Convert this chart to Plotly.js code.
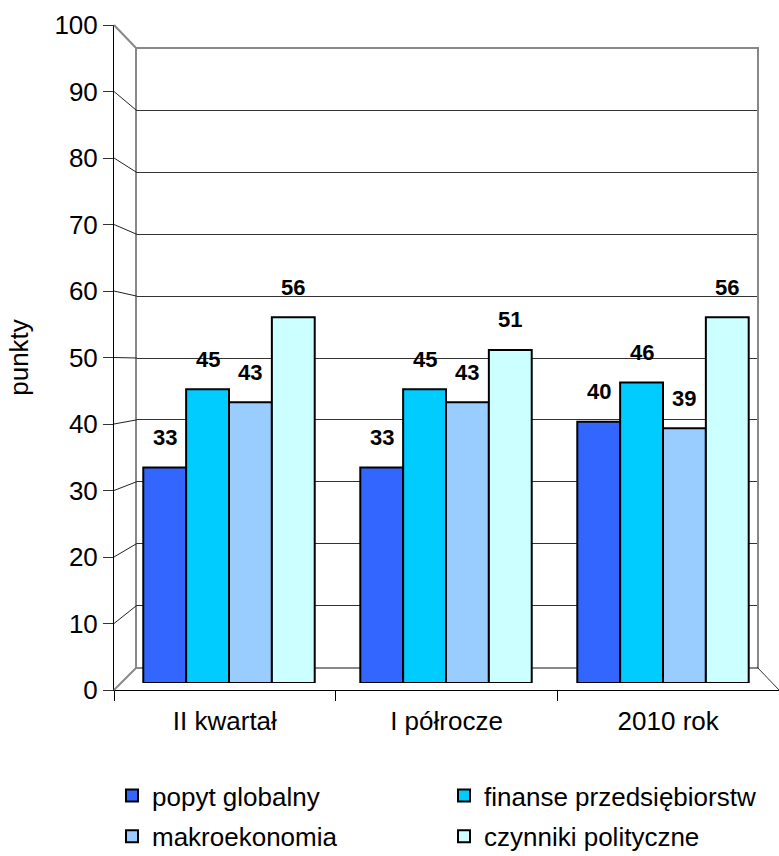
<!DOCTYPE html>
<html>
<head>
<meta charset="utf-8">
<script src="https://cdn.plot.ly/plotly-3.0.1.min.js"></script>
<style>html,body{margin:0;padding:0;background:#fff}#chart{width:779px;height:856px}</style>
</head>
<body>
<div id="chart"></div>
<script>
// ---- data ----
const categories = ["II kwartał", "I półrocze", "2010 rok"];
const seriesNames = ["popyt globalny", "finanse przedsiębiorstw", "makroekonomia", "czynniki polityczne"];
const popytGlobalny = [33, 33, 40];
const finansePrzedsiebiorstw = [45, 45, 46];
const makroekonomia = [43, 43, 39];
const czynnikiPolityczne = [56, 51, 56];
const yTickValues = [0, 10, 20, 30, 40, 50, 60, 70, 80, 90, 100];

// ---- style ----
const seriesValues = [popytGlobalny, finansePrzedsiebiorstw, makroekonomia, czynnikiPolityczne];
const colors = ["#3366FF", "#00CCFF", "#99CCFF", "#CCFFFF"];
const legendOf = ["legend", "legend2", "legend", "legend2"];
const FONT = "Liberation Sans, Arial, sans-serif";
const W = 779, H = 856;
const px = x => x / W;
const py = y => 1 - y / H;
const bargap = 0.21;

// geometry (pixels)
const frontX = 114, frontTop = 25, frontBottom = 690;
const backX = 137, backRight = 757, backTop = 49, backBottom = 667;
const barTop100 = 30, barBottom = 683, barLeft = 120.5, barRight = 771.5;

const traces = [];
// empty helper traces so the frame subplots are created (draw nothing)
traces.push({type: "scatter", mode: "none", x: [null], y: [null], xaxis: "x", yaxis: "y", showlegend: false, hoverinfo: "skip"});
seriesValues.forEach((vals, i) => traces.push({
  type: "bar",
  name: seriesNames[i],
  x: categories,
  y: vals,
  xaxis: "x2",
  yaxis: "y2",
  legend: legendOf[i],
  legendgroup: "g" + i,
  marker: {color: colors[i], line: {color: "#000", width: 2}},
  hoverinfo: "skip"
}));
traces.push({type: "scatter", mode: "none", x: [null], y: [null], xaxis: "x3", yaxis: "y3", showlegend: false, hoverinfo: "skip"});

// data labels above bars (through axis x2/y2)
const annotations = [];
const w = (1 - bargap) / seriesValues.length;
seriesValues.forEach((vals, i) => {
  vals.forEach((v, c) => {
    annotations.push({
      xref: "x2", yref: "y2",
      x: c - (1 - bargap) / 2 + (i + 0.5) * w,
      y: v,
      yshift: 30,
      text: "<b>" + v + "</b>",
      showarrow: false,
      font: {family: FONT, size: 22, color: "#000"}
    });
  });
});

// 3D frame connector lines
const shapes = [];
const frontY = v => frontBottom - (frontBottom - frontTop) * v / 100;
const backY = v => backBottom - (backBottom - backTop) * v / 100;
yTickValues.forEach(v => {
  const edge = (v === 0 || v === 100);
  shapes.push({
    type: "line", xref: "paper", yref: "paper",
    x0: px(frontX), y0: py(frontY(v)), x1: px(backX), y1: py(backY(v)),
    line: {color: edge ? "#888" : "#222", width: edge ? 2 : 1}
  });
});
shapes.push({
  type: "line", xref: "paper", yref: "paper",
  x0: px(backRight), y0: py(backBottom), x1: px(W), y1: py(frontBottom),
  line: {color: "#333", width: 1}
});

const legendCommon = {orientation: "v", xanchor: "left", yanchor: "top",
  font: {family: FONT, size: 26}, traceorder: "grouped", bgcolor: "rgba(0,0,0,0)",
  tracegroupgap: 4, itemwidth: 30};

const layout = {
  width: W, height: H,
  margin: {l: 0, r: 0, t: 0, b: 0, autoexpand: false},
  paper_bgcolor: "#fff", plot_bgcolor: "rgba(0,0,0,0)",
  font: {family: FONT, size: 25, color: "#000"},
  barmode: "group", bargap: bargap, bargroupgap: 0,
  hovermode: false,
  showlegend: true,
  // back wall
  xaxis: {domain: [px(backX), px(backRight)], anchor: "y", range: [0, 1],
          showgrid: false, zeroline: false, showticklabels: false, ticks: "",
          showline: true, mirror: true, linecolor: "#888", linewidth: 2},
  yaxis: {domain: [py(backBottom), py(backTop)], anchor: "x", range: [0, 100],
          tickvals: yTickValues, showgrid: true, gridcolor: "#333", gridwidth: 1,
          zeroline: false, showticklabels: false, ticks: "",
          showline: true, mirror: true, linecolor: "#888", linewidth: 2},
  // bars
  xaxis2: {domain: [px(barLeft), px(barRight)], anchor: "y2", type: "category",
           visible: false, range: [-0.5, 2.5]},
  yaxis2: {domain: [py(barBottom), py(barTop100)], anchor: "x2", range: [0, 100],
           visible: false},
  // front axes
  xaxis3: {domain: [px(frontX), 1], anchor: "y3", range: [0, 3],
           tickvals: [0.5, 1.5, 2.5], ticktext: categories, ticks: "", ticklabelstandoff: 8,
           minor: {tickvals: [0, 1, 2, 3], ticks: "outside", ticklen: 10, tickcolor: "#000", showgrid: false},
           showgrid: false, zeroline: false, showline: true, linecolor: "#000", linewidth: 1,
           tickfont: {family: FONT, size: 26}},
  yaxis3: {domain: [py(frontBottom), py(frontTop)], anchor: "x3", range: [0, 100],
           tickvals: yTickValues, ticks: "outside", ticklen: 10, tickcolor: "#333",
           showgrid: false, zeroline: false, showline: true, linecolor: "#000", linewidth: 1,
           tickfont: {family: FONT, size: 26},
           title: {text: "punkty", font: {family: FONT, size: 26}, standoff: 18}},
  legend: Object.assign({x: px(112), y: py(772)}, legendCommon),
  legend2: Object.assign({x: px(444), y: py(772)}, legendCommon),
  annotations: annotations,
  shapes: shapes
};

Plotly.newPlot("chart", traces, layout, {displayModeBar: false, staticPlot: true});
</script>
</body>
</html>
